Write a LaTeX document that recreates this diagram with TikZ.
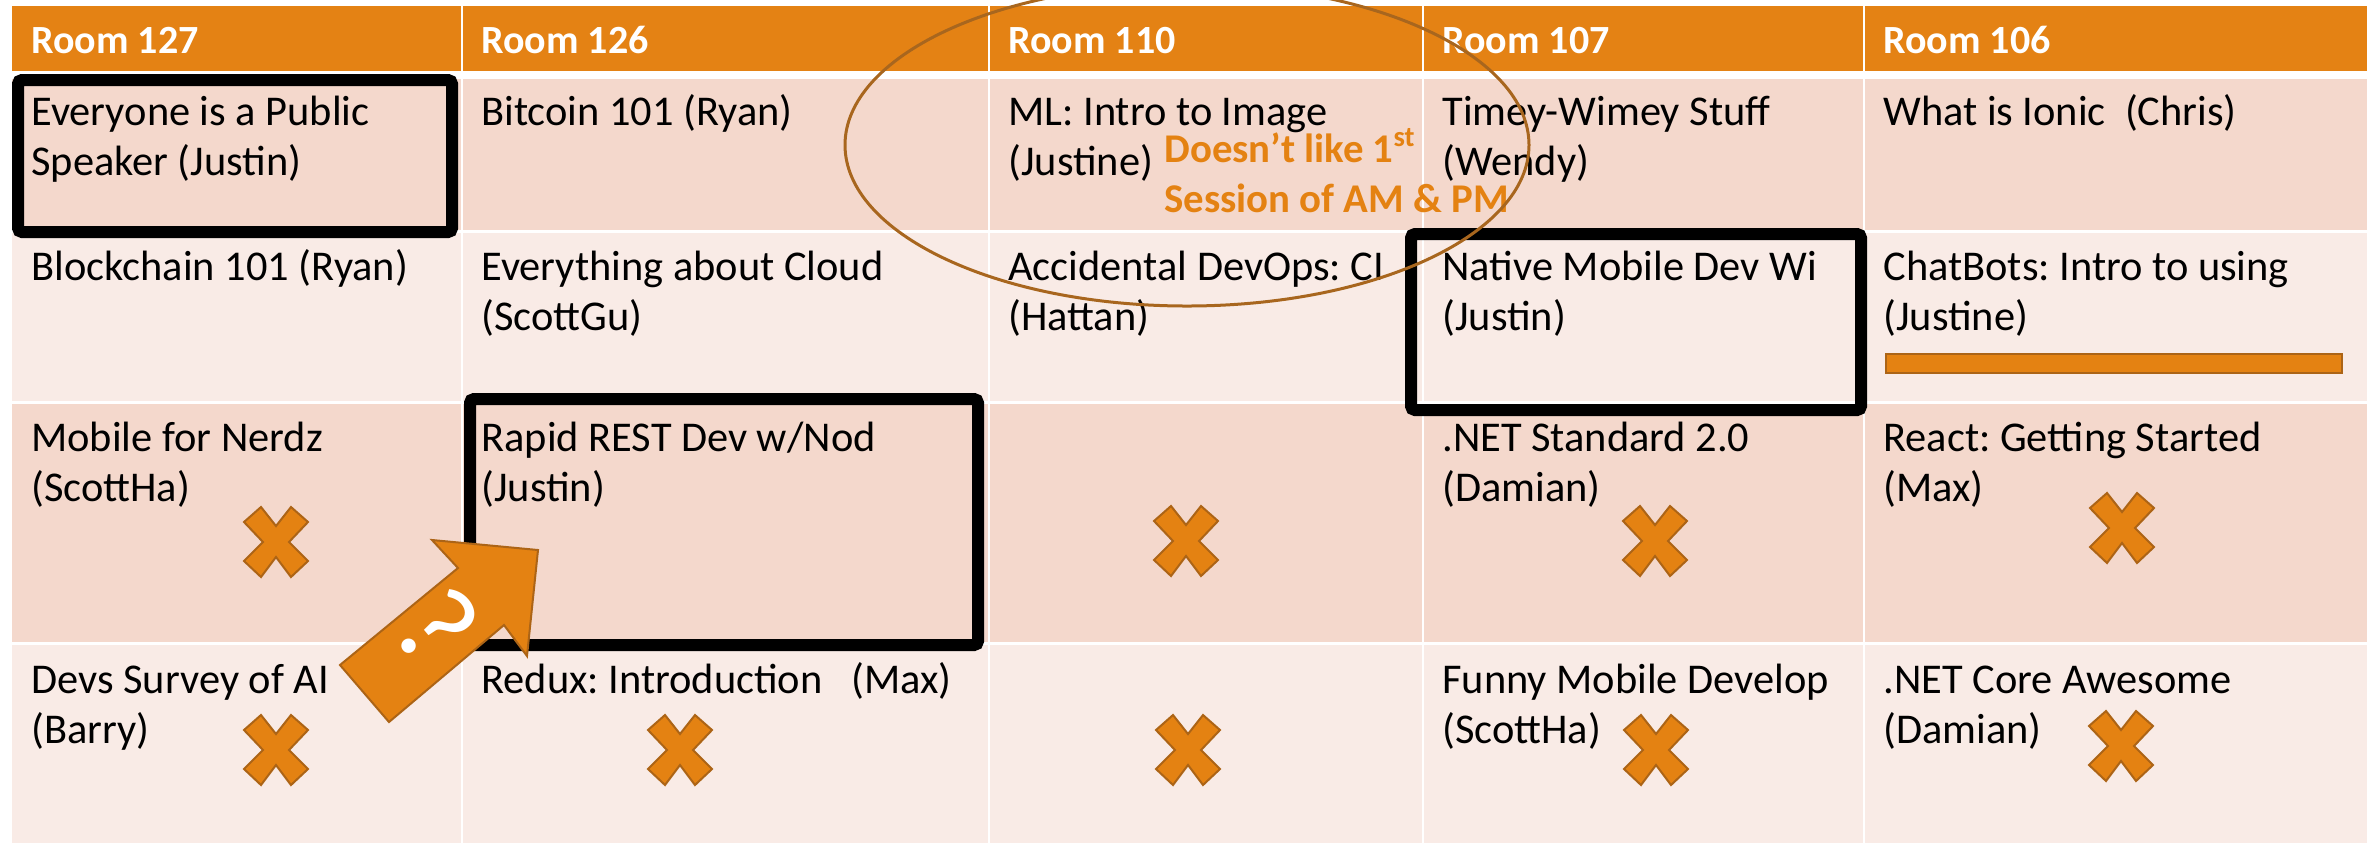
\documentclass[tikz,border=0pt]{standalone}
\usepackage{fontspec}
\setmainfont{Carlito}
\frenchspacing
\definecolor{headfill}{RGB}{228,130,20}
\definecolor{darkfill}{RGB}{244,216,204}
\definecolor{lightfill}{RGB}{249,235,230}
\definecolor{orfill}{RGB}{228,130,18}
\definecolor{orline}{RGB}{172,100,22}
\definecolor{ellcol}{RGB}{168,102,30}
\begin{document}
\begin{tikzpicture}[x=0.5pt,y=-0.5pt,
  celltext/.style={anchor=base west, inner sep=0pt, font=\fontsize{21.2pt}{25pt}\selectfont\frenchspacing},
  headtext/.style={celltext, text=white, font=\fontsize{20pt}{25pt}\selectfont\bfseries},
  notetext/.style={celltext, text=orfill, font=\fontsize{20.4pt}{25pt}\selectfont\bfseries},
  blackbox/.style={draw=black, line width=6pt, rounded corners=2pt},
  orshape/.style={fill=orfill, draw=orline, line width=1pt, line join=miter},
  xcross/.pic={\path[orshape] (-32,-20) -- (-15,-35) -- (0,-16) -- (15,-35) -- (32,-20) -- (13,0) -- (32,19) -- (15,35) -- (0,15) -- (-15,35) -- (-32,19) -- (-13,0) -- cycle;}
]
\useasboundingbox (0,0) rectangle (2376,843);
\clip (0,0) rectangle (2376,843);
\fill[white] (0,0) rectangle (2376,843);

% cell fills
\foreach \a/\b in {12/461,463/988,990/1422,1424/1863,1865/2367} {
  \fill[headfill] (\a,6) rectangle (\b,71);
  \fill[darkfill] (\a,79) rectangle (\b,230);
  \fill[lightfill] (\a,233) rectangle (\b,401);
  \fill[darkfill] (\a,404) rectangle (\b,642);
  \fill[lightfill] (\a,645) rectangle (\b,843);
}

% header
\node[headtext] (h1) at (31,53) {Room 127};
\node[headtext] (h2) at (481,53) {Room 126};
\node[headtext] (h3) at (1008,53) {Room 110};
\node[headtext] (h4) at (1442,53) {Room 107};
\node[headtext] (h5) at (1883,53) {Room 106};

% row 1
\node[celltext] (r1c1a) at (31,125) {Everyone is a Public};
\node[celltext] (r1c1b) at (31,175) {Speaker (Justin)};
\node[celltext] (r1c2a) at (481,125) {Bitcoin 101 (Ryan)};
\node[celltext] (r1c3a) at (1008,125) {ML: Intro to Image};
\node[celltext] (r1c3b) at (1008,175) {(Justine)};
\node[celltext] (r1c4a) at (1442,125) {Timey-Wimey Stuff};
\node[celltext] (r1c4b) at (1442,175) {(Wendy)};
\node[celltext] (r1c5a) at (1883,125) {What is Ionic\ \ (Chris)};

% row 2
\node[celltext] (r2c1a) at (31,280) {Blockchain 101 (Ryan)};
\node[celltext] (r2c2a) at (481,280) {Everything about Cloud};
\node[celltext] (r2c2b) at (481,330) {(ScottGu)};
\node[celltext] (r2c3a) at (1008,280) {Accidental DevOps: CI};
\node[celltext] (r2c3b) at (1008,330) {(Hattan)};
\node[celltext] (r2c4a) at (1442,280) {Native Mobile Dev Wi};
\node[celltext] (r2c4b) at (1442,330) {(Justin)};
\node[celltext] (r2c5a) at (1883,280) {ChatBots: Intro to using};
\node[celltext] (r2c5b) at (1883,330) {(Justine)};

% row 3
\node[celltext] (r3c1a) at (31,451) {Mobile for Nerdz};
\node[celltext] (r3c1b) at (31,501) {(ScottHa)};
\node[celltext] (r3c2a) at (481,451) {Rapid REST Dev w/Nod};
\node[celltext] (r3c2b) at (481,501) {(Justin)};
\node[celltext] (r3c4a) at (1442,451) {.NET Standard 2.0};
\node[celltext] (r3c4b) at (1442,501) {(Damian)};
\node[celltext] (r3c5a) at (1883,451) {React: Getting Started};
\node[celltext] (r3c5b) at (1883,501) {(Max)};

% row 4
\node[celltext] (r4c1a) at (31,693) {Devs Survey of AI};
\node[celltext] (r4c1b) at (31,743) {(Barry)};
\node[celltext] (r4c2a) at (481,693) {Redux: Introduction\ \ \ (Max)};
\node[celltext] (r4c4a) at (1442,693) {Funny Mobile Develop};
\node[celltext] (r4c4b) at (1442,743) {(ScottHa)};
\node[celltext] (r4c5a) at (1883,693) {.NET Core Awesome};
\node[celltext] (r4c5b) at (1883,743) {(Damian)};

% orange bar
\path[orshape] (1886,354) rectangle (2342,373);

% black boxes
\draw[blackbox] (18,80) rectangle (452,232);
\draw[blackbox] (1411,234) rectangle (1861,410);
\draw[blackbox] (470,399) rectangle (978,645);

% crosses
\pic at (276,542) {xcross};
\pic at (1186,541) {xcross};
\pic at (1655,541) {xcross};
\pic at (2122,528) {xcross};
\pic at (276,750) {xcross};
\pic at (680,750) {xcross};
\pic at (1188,750) {xcross};
\pic at (1656,750) {xcross};
\pic at (2121,746) {xcross};

% arrow
\path[orshape] (340,665) -- (458,568) -- (432,540) -- (538,550) -- (527,656) -- (504,625) -- (389,722) -- cycle;
\node[text=white, inner sep=0pt, rotate=-50, font=\fontsize{60pt}{60pt}\selectfont] (qm) at (437,627) {?};

% note
\node[notetext] (n1) at (1164,162) {Doesn’t like 1\textsuperscript{st}};
\node[notetext] (n2) at (1164,212) {Session of AM \& PM};

% ellipse
\draw[ellcol, line width=1.5pt] (1187,145) ellipse [x radius=342, y radius=161];
\end{tikzpicture}
\end{document}
